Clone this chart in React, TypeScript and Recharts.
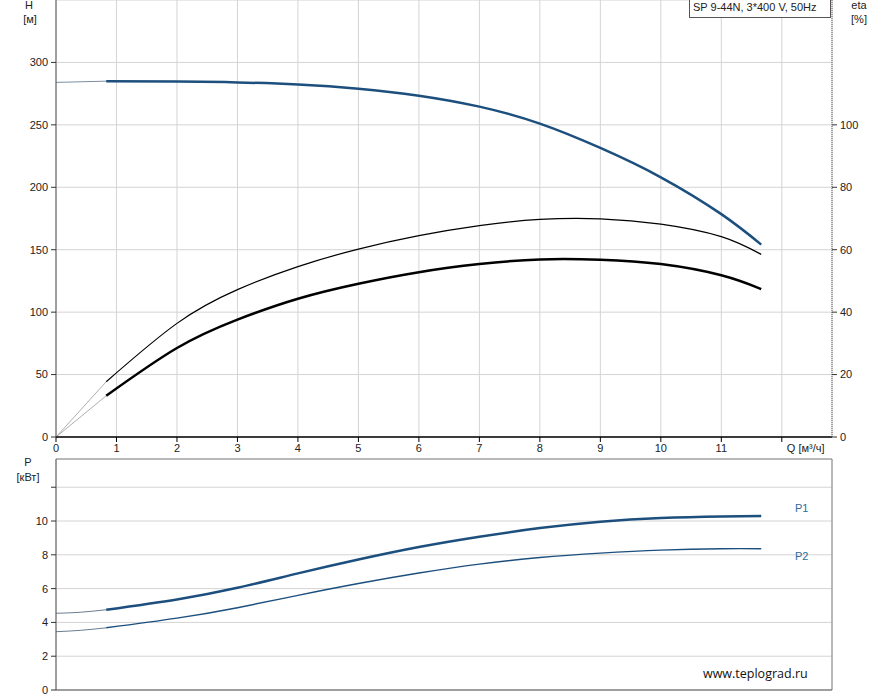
import React from 'react';
import { LineChart, Line, XAxis, YAxis, CartesianGrid, ReferenceLine } from 'recharts';

// axis ticks
const qTicks = [0, 1, 2, 3, 4, 5, 6, 7, 8, 9, 10, 11, 12];
const hTicks = [0, 50, 100, 150, 200, 250, 300];
const etaTicks = [0, 20, 40, 60, 80, 100];
const pTicks = [0, 2, 4, 6, 8, 10, 12];

// thin start segments (Q = 0 .. 0.83)
const qStart = [0, 0.83];
const headStart = [284, 285];
const etaStart = [0, 17.7];
const etaTotalStart = [0, 13.2];
const qPowerStart = [0, 0.4, 0.83];
const p1Start = [4.54, 4.6, 4.75];
const p2Start = [3.45, 3.53, 3.68];

// working range
const qFlow = [0.83, 2, 3, 4, 5, 6, 7, 8, 9, 10, 11, 11.66];
const head = [285, 284.8, 284, 282.3, 279, 273.4, 264.6, 251, 231.5, 208, 178.5, 154.1];
const eta = [17.7, 36.4, 47.2, 54.6, 60.2, 64.5, 67.7, 69.7, 69.9, 68.2, 64.2, 58.5];
const etaTotal = [13.2, 28.5, 37.6, 44.3, 49.1, 52.8, 55.4, 56.9, 56.8, 55.4, 51.8, 47.4];
const p1 = [4.75, 5.36, 6.05, 6.9, 7.72, 8.46, 9.07, 9.58, 9.96, 10.18, 10.27, 10.29];
const p2 = [3.68, 4.25, 4.87, 5.6, 6.3, 6.92, 7.45, 7.84, 8.1, 8.28, 8.36, 8.36];

const rows = (qs: number[], vs: number[]) => qs.map((q, i) => ({ q, v: vs[i] }));

const Q_MAX = 12.83;
const P_MAX = 13.67;
const FONT = '"Liberation Sans", Arial, sans-serif';
const BLUE = '#1c4f7d';
const GRID = '#d4d4d4';

const tickStyle = { fill: '#222', fontSize: 11, fontFamily: FONT };

const QTick = ({ x, y, payload }: any) => {
  if (payload.value === 12) {
    return (
      <text x={x + 5} y={y} dy="0.71em" fill="#222" fontSize={11} fontFamily={FONT} textAnchor="start">
        Q [м³/ч]
      </text>
    );
  }
  return (
    <text x={x} y={y} dy="0.71em" fill="#222" fontSize={11} fontFamily={FONT} textAnchor="middle">
      {payload.value}
    </text>
  );
};

const abs = (left: number, top: number, extra: React.CSSProperties = {}): React.CSSProperties => ({
  position: 'absolute',
  left,
  top,
  fontFamily: FONT,
  fontSize: 11,
  color: '#222',
  lineHeight: '13px',
  whiteSpace: 'nowrap',
  ...extra,
});

export default function App() {
  return (
    <div style={{ position: 'absolute', left: 0, top: 0, width: 887, height: 700, background: '#fff', overflow: 'hidden' }}>
      {/* upper chart: H and eta */}
      <div style={{ position: 'absolute', left: 0, top: 0 }}>
        <LineChart width={887} height={460} margin={{ top: 0, right: 0, left: 0, bottom: 0 }}>
          <CartesianGrid yAxisId="h" stroke={GRID} strokeWidth={1} />
          <XAxis
            type="number"
            dataKey="q"
            domain={[0, Q_MAX]}
            ticks={qTicks}
            allowDataOverflow
            height={23}
            axisLine={{ stroke: '#000', strokeWidth: 1.5 }}
            tickLine={{ stroke: '#000' }}
            tickSize={5}
            tickMargin={2}
            tick={<QTick />}
          />
          <YAxis
            yAxisId="h"
            type="number"
            domain={[0, 350]}
            ticks={hTicks}
            allowDataOverflow
            width={56}
            axisLine={{ stroke: '#555' }}
            tickLine={{ stroke: '#333' }}
            tickSize={5}
            tickMargin={3}
            tick={tickStyle}
          />
          <YAxis
            yAxisId="eta"
            orientation="right"
            type="number"
            domain={[0, 140]}
            ticks={etaTicks}
            allowDataOverflow
            width={55}
            axisLine={{ stroke: '#555', strokeDasharray: '1 1' }}
            tickLine={{ stroke: '#333' }}
            tickSize={5}
            tickMargin={3}
            tick={tickStyle}
          />
          <Line yAxisId="h" data={rows(qStart, headStart)} dataKey="v" type="linear" stroke="#7d8ea3" strokeWidth={1} dot={false} isAnimationActive={false} />
          <Line yAxisId="eta" data={rows(qStart, etaStart)} dataKey="v" type="linear" stroke="#999" strokeWidth={0.8} dot={false} isAnimationActive={false} />
          <Line yAxisId="eta" data={rows(qStart, etaTotalStart)} dataKey="v" type="linear" stroke="#999" strokeWidth={0.8} dot={false} isAnimationActive={false} />
          <Line yAxisId="eta" data={rows(qFlow, eta)} dataKey="v" type="natural" stroke="#000" strokeWidth={1.2} dot={false} isAnimationActive={false} />
          <Line yAxisId="eta" data={rows(qFlow, etaTotal)} dataKey="v" type="natural" stroke="#000" strokeWidth={2.5} dot={false} isAnimationActive={false} />
          <Line yAxisId="h" data={rows(qFlow, head)} dataKey="v" type="natural" stroke={BLUE} strokeWidth={2.5} dot={false} isAnimationActive={false} />
        </LineChart>
      </div>

      {/* lower chart: power */}
      <div style={{ position: 'absolute', left: 0, top: 450 }}>
        <LineChart width={887} height={250} margin={{ top: 9, right: 55, left: 0, bottom: 9 }}>
          <CartesianGrid stroke={GRID} strokeWidth={1} />
          <XAxis
            type="number"
            dataKey="q"
            domain={[0, Q_MAX]}
            ticks={qTicks}
            allowDataOverflow
            height={1}
            axisLine={{ stroke: '#555' }}
            tickLine={false}
            tick={false}
          />
          <YAxis
            type="number"
            domain={[0, P_MAX]}
            ticks={pTicks}
            allowDataOverflow
            width={56}
            axisLine={{ stroke: '#555' }}
            tickLine={{ stroke: '#333' }}
            tickSize={5}
            tickMargin={3}
            tick={(props: any) =>
              props.payload.value === 12 ? <g /> : (
                <text x={props.x} y={props.y} dy="0.355em" textAnchor="end" fill="#222" fontSize={11} fontFamily={FONT}>
                  {props.payload.value}
                </text>
              )
            }
          />
          <ReferenceLine y={P_MAX} stroke="#888" ifOverflow="extendDomain" />
          <ReferenceLine x={Q_MAX} stroke="#888" ifOverflow="extendDomain" />
          <Line data={rows(qPowerStart, p1Start)} dataKey="v" type="natural" stroke="#6b7d92" strokeWidth={1} dot={false} isAnimationActive={false} />
          <Line data={rows(qPowerStart, p2Start)} dataKey="v" type="natural" stroke="#6b7d92" strokeWidth={1} dot={false} isAnimationActive={false} />
          <Line data={rows(qFlow, p2)} dataKey="v" type="natural" stroke={BLUE} strokeWidth={1.4} dot={false} isAnimationActive={false} />
          <Line data={rows(qFlow, p1)} dataKey="v" type="natural" stroke={BLUE} strokeWidth={2.5} dot={false} isAnimationActive={false} />
        </LineChart>
      </div>

      {/* axis titles and labels */}
      <div style={abs(23, -1, { width: 12, textAlign: 'center' })}>H</div>
      <div style={abs(19, 13, { width: 22, textAlign: 'center' })}>[м]</div>
      <div style={abs(845, -1, { width: 28, textAlign: 'center' })}>eta</div>
      <div style={abs(845, 13, { width: 28, textAlign: 'center' })}>[%]</div>
      <div style={abs(15, 456, { width: 26, textAlign: 'center' })}>P</div>
      <div style={abs(12, 471, { width: 32, textAlign: 'center' })}>[кВт]</div>
      <div
        style={abs(689, -1, {
          width: 142,
          height: 19,
          border: '1px solid #555',
          borderTop: 'none',
          background: '#fff',
          boxSizing: 'border-box',
          paddingLeft: 3,
          paddingTop: 2,
        })}
      >
        SP 9-44N, 3*400 V, 50Hz
      </div>
      <div style={abs(795, 502, { color: '#2b6c9c' })}>P1</div>
      <div style={abs(795, 550, { color: '#2b6c9c' })}>P2</div>
      <div style={abs(703, 665, { fontFamily: '"Open Sans", sans-serif', fontSize: 12.5, lineHeight: '17px', color: '#111' })}>
        www.teplograd.ru
      </div>
    </div>
  );
}
